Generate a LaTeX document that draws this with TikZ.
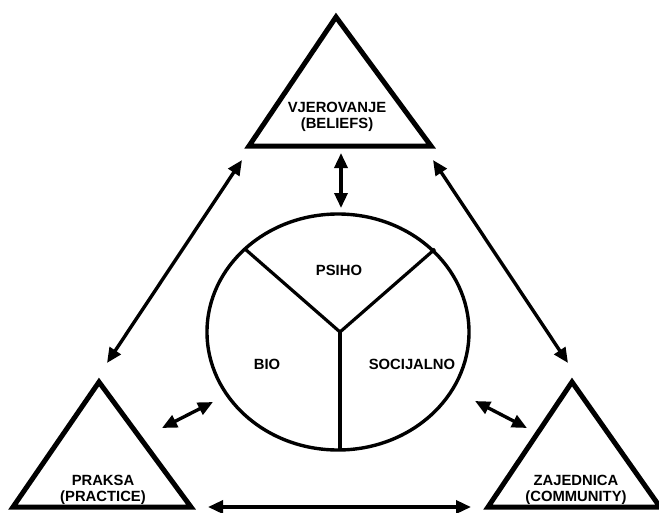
\documentclass[tikz,border=0pt]{standalone}
\usepackage{fontspec}
\setmainfont{Liberation Sans}
\usetikzlibrary{arrows.meta}
\begin{document}
\begin{tikzpicture}[x=1pt,y=-1pt,
  tri/.style={line width=5pt,line join=miter},
  ring/.style={line width=3.4pt},
  spoke/.style={line width=3.2pt},
  arr/.style={line width=3.4pt,{Triangle[length=15pt,width=13pt]}-{Triangle[length=15pt,width=13pt]}},
  lbl/.style={font=\fontsize{14.8}{16}\selectfont\bfseries,align=center,inner sep=0pt}]
\useasboundingbox (0,0) rectangle (659,512);
\clip (0,0) rectangle (659,512);
% triangles
\draw[tri] (336,17) -- (431,146) -- (249,146) -- cycle;
\draw[tri] (99,382) -- (191,507) -- (13,507) -- cycle;
\draw[tri] (572,382) -- (660,507) -- (488,507) -- cycle;
\node[lbl] (tb) at (337,117) {VJEROVANJE\\(BELIEFS)};
\node[lbl] (tl) at (103,490) {PRAKSA\\(PRACTICE)};
\node[lbl] (tr) at (576,490) {ZAJEDNICA\\(COMMUNITY)};
% circle
\draw[ring] (338,332) ellipse [x radius=131, y radius=118];
\coordinate (c) at (340,332);
\coordinate (y1) at (245,249);
\coordinate (y2) at (435,249);
\coordinate (y3) at (340,451);
\draw[spoke] (y1) -- (c) -- (y2);
\draw[spoke] (c) -- (y3);
\node[lbl] (psiho) at (339,270) {PSIHO};
\node[lbl] (bio) at (267,364) {BIO};
\node[lbl] (soc) at (412,364) {SOCIJALNO};
% arrow end points
\coordinate (v1) at (341,153);
\coordinate (v2) at (341,208);
\coordinate (l1) at (242,160);
\coordinate (l2) at (107,363);
\coordinate (r1) at (433,160);
\coordinate (r2) at (568,363);
\coordinate (b1) at (208,507);
\coordinate (b2) at (471,507);
\coordinate (sl1) at (162,428);
\coordinate (sl2) at (213,402);
\coordinate (sr1) at (475,401);
\coordinate (sr2) at (527,428);
\draw[arr] (v1) -- (v2);
\draw[arr] (l1) -- (l2);
\draw[arr] (r1) -- (r2);
\draw[arr] (b1) -- (b2);
\draw[arr] (sl1) -- (sl2);
\draw[arr] (sr1) -- (sr2);
\end{tikzpicture}
\end{document}
